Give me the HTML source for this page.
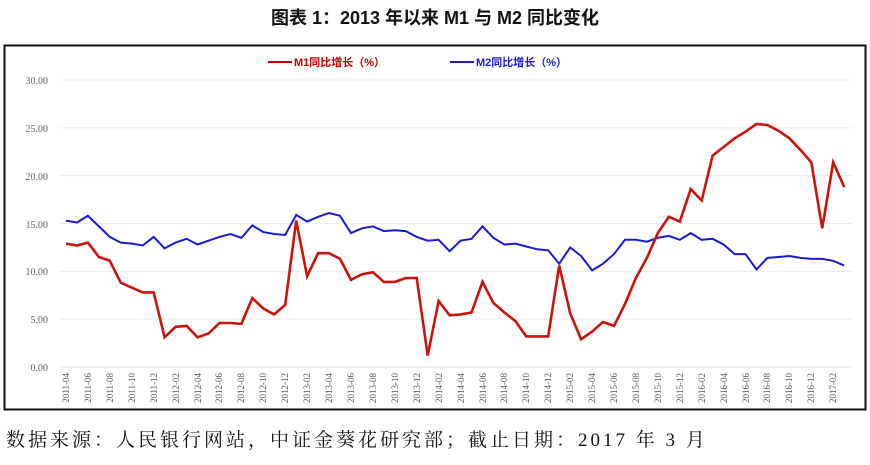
<!DOCTYPE html>
<html><head><meta charset="utf-8"><style>
body{margin:0;width:870px;height:460px;background:#fff;overflow:hidden}
</style></head><body>
<svg width="870" height="460" xmlns="http://www.w3.org/2000/svg">
<text x="435" y="24" text-anchor="middle" font-family="Liberation Sans,Noto Sans CJK SC,sans-serif" font-weight="bold" font-size="18" fill="#111">图表 1：2013 年以来 M1 与 M2 同比变化</text>
<rect x="4.5" y="45.5" width="861" height="364" fill="#fff" stroke="#111" stroke-width="2"/>
<g stroke="#ececec" stroke-width="1" id="grid"></g>
<g font-family="Liberation Serif,serif" font-size="10" fill="#666" text-anchor="end">
<text x="48" y="84">30.00</text><text x="48" y="132">25.00</text><text x="48" y="180">20.00</text><text x="48" y="228">15.00</text><text x="48" y="275">10.00</text><text x="48" y="323">5.00</text><text x="48" y="371">0.00</text>
</g>
<line x1="60" y1="367" x2="852" y2="367" stroke="#ddd"/>
<line x1="268" y1="62" x2="292" y2="62" stroke="#c00000" stroke-width="2"/>
<text x="294" y="66" font-family="Liberation Sans,Noto Sans CJK SC,sans-serif" font-size="11" font-weight="bold" fill="#c00000">M1同比增长（%）</text>
<line x1="450" y1="62" x2="474" y2="62" stroke="#1a1acc" stroke-width="2"/>
<text x="476" y="66" font-family="Liberation Sans,Noto Sans CJK SC,sans-serif" font-size="11" font-weight="bold" fill="#1a1acc">M2同比增长（%）</text>
<polyline id="m2" fill="none" stroke="#1a1ad0" stroke-width="2"/>
<polyline id="m1" fill="none" stroke="#c8140c" stroke-width="2.6"/>
<text x="6" y="446" font-family="Liberation Serif,Noto Serif CJK SC,serif" font-size="19" fill="#111" letter-spacing="3">数据来源：人民银行网站，中证金葵花研究部；截止日期：2017 年 3 月</text>
</svg>
<script>
var m1=[12.9,12.7,13.0,11.5,11.1,8.8,8.3,7.8,7.8,3.1,4.2,4.3,3.1,3.5,4.6,4.6,4.5,7.2,6.1,5.5,6.5,15.3,9.5,11.9,11.9,11.3,9.1,9.7,9.9,8.9,8.9,9.3,9.3,1.2,6.9,5.4,5.5,5.7,8.9,6.7,5.7,4.8,3.2,3.2,3.2,10.6,5.6,2.9,3.7,4.7,4.3,6.6,9.3,11.4,14.0,15.7,15.2,18.6,17.4,22.1,23.0,23.9,24.6,25.4,25.3,24.7,23.9,22.7,21.4,14.5,21.4,18.8];
var m2=[15.3,15.1,15.8,14.7,13.6,13.0,12.9,12.7,13.6,12.4,13.0,13.4,12.8,13.2,13.6,13.9,13.5,14.8,14.1,13.9,13.8,15.9,15.2,15.7,16.1,15.8,14.0,14.5,14.7,14.2,14.3,14.2,13.6,13.2,13.3,12.1,13.2,13.4,14.7,13.5,12.8,12.9,12.6,12.3,12.2,10.8,12.5,11.6,10.1,10.8,11.8,13.3,13.3,13.1,13.5,13.7,13.3,14.0,13.3,13.4,12.8,11.8,11.8,10.2,11.4,11.5,11.6,11.4,11.3,11.3,11.1,10.6];
function X(i){return 66+i*10.96}function Y(v){return 367-v*9.567}
function pts(a){return a.map(function(v,i){return X(i).toFixed(1)+','+Y(v).toFixed(1)}).join(' ')}
document.getElementById('m1').setAttribute('points',pts(m1));
document.getElementById('m2').setAttribute('points',pts(m2));
var g=document.getElementById('grid'),s='';
for(var k=1;k<=6;k++){var y=367-k*5*9.567;s+='<line x1="60" x2="852" y1="'+y+'" y2="'+y+'"/>';}
g.innerHTML=s;
</script>
<svg style="position:absolute;left:0;top:0" width="870" height="460" xmlns="http://www.w3.org/2000/svg">
<g font-family="Liberation Serif,serif" font-size="9" fill="#555" text-anchor="end">
<text transform="translate(69,373) rotate(-90)">2011-04</text>
<text transform="translate(91,373) rotate(-90)">2011-06</text>
<text transform="translate(113,373) rotate(-90)">2011-08</text>
<text transform="translate(135,373) rotate(-90)">2011-10</text>
<text transform="translate(157,373) rotate(-90)">2011-12</text>
<text transform="translate(179,373) rotate(-90)">2012-02</text>
<text transform="translate(201,373) rotate(-90)">2012-04</text>
<text transform="translate(222,373) rotate(-90)">2012-06</text>
<text transform="translate(244,373) rotate(-90)">2012-08</text>
<text transform="translate(266,373) rotate(-90)">2012-10</text>
<text transform="translate(288,373) rotate(-90)">2012-12</text>
<text transform="translate(310,373) rotate(-90)">2013-02</text>
<text transform="translate(332,373) rotate(-90)">2013-04</text>
<text transform="translate(354,373) rotate(-90)">2013-06</text>
<text transform="translate(376,373) rotate(-90)">2013-08</text>
<text transform="translate(398,373) rotate(-90)">2013-10</text>
<text transform="translate(420,373) rotate(-90)">2013-12</text>
<text transform="translate(442,373) rotate(-90)">2014-02</text>
<text transform="translate(464,373) rotate(-90)">2014-04</text>
<text transform="translate(486,373) rotate(-90)">2014-06</text>
<text transform="translate(507,373) rotate(-90)">2014-08</text>
<text transform="translate(529,373) rotate(-90)">2014-10</text>
<text transform="translate(551,373) rotate(-90)">2014-12</text>
<text transform="translate(573,373) rotate(-90)">2015-02</text>
<text transform="translate(595,373) rotate(-90)">2015-04</text>
<text transform="translate(617,373) rotate(-90)">2015-06</text>
<text transform="translate(639,373) rotate(-90)">2015-08</text>
<text transform="translate(661,373) rotate(-90)">2015-10</text>
<text transform="translate(683,373) rotate(-90)">2015-12</text>
<text transform="translate(705,373) rotate(-90)">2016-02</text>
<text transform="translate(727,373) rotate(-90)">2016-04</text>
<text transform="translate(749,373) rotate(-90)">2016-06</text>
<text transform="translate(770,373) rotate(-90)">2016-08</text>
<text transform="translate(792,373) rotate(-90)">2016-10</text>
<text transform="translate(814,373) rotate(-90)">2016-12</text>
<text transform="translate(836,373) rotate(-90)">2017-02</text>
</g>
</svg>
</body></html>
